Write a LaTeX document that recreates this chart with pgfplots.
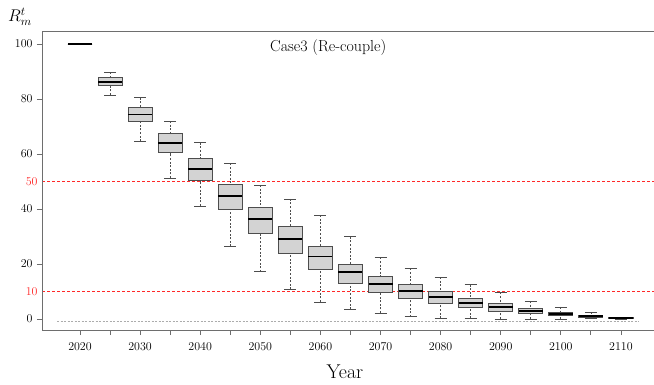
\documentclass[border=0pt]{standalone}
\usepackage{fix-cm}
\usepackage{fontspec}
\usepackage{pgfplots}
\pgfplotsset{compat=1.18}
\usepgfplotslibrary{statistics}
\definecolor{boxfill}{RGB}{211,211,211}
\definecolor{boxedge}{RGB}{77,77,77}
\definecolor{spine}{RGB}{110,110,110}
\definecolor{refred}{RGB}{255,40,40}
\pgfplotsset{
  boxplot/draw direction=y,
  boxplot/draw/lower whisker/.code={
    \draw[/pgfplots/boxplot/every whisker/.try]
      (boxplot box cs:\pgfplotsboxplotvalue{lower whisker},0.5) --
      (boxplot box cs:\pgfplotsboxplotvalue{lower quartile},0.5);
    \draw[/pgfplots/boxplot/every whisker/.try, solid]
      (boxplot whisker cs:\pgfplotsboxplotvalue{lower whisker},0) --
      (boxplot whisker cs:\pgfplotsboxplotvalue{lower whisker},1);
  },
  boxplot/draw/upper whisker/.code={
    \draw[/pgfplots/boxplot/every whisker/.try]
      (boxplot box cs:\pgfplotsboxplotvalue{upper whisker},0.5) --
      (boxplot box cs:\pgfplotsboxplotvalue{upper quartile},0.5);
    \draw[/pgfplots/boxplot/every whisker/.try, solid]
      (boxplot whisker cs:\pgfplotsboxplotvalue{upper whisker},0) --
      (boxplot whisker cs:\pgfplotsboxplotvalue{upper whisker},1);
  },
  boxplot/box extend=4,
  boxplot/whisker extend=2,
  boxplot/every whisker/.style={draw=boxedge, line width=0.7bp, dash pattern=on 2bp off 1.6bp},
  boxplot/every median/.style={draw=black, line width=1.8bp},
  boxplot/every box/.style={draw=boxedge, fill=boxfill, line width=0.9bp},
  common/.style={scale only axis, width=612bp, height=298bp,
    xmin=-6.32, xmax=95.5, ymin=-4, ymax=104.4},
}
\begin{document}
\begin{tikzpicture}
% reference lines, drawn underneath the boxes
\begin{axis}[common, hide axis, clip=false]
\addplot[draw=refred, line width=1.2bp, dash pattern=on 3bp off 2bp] coordinates {(-6.32,50) (95.5,50)};
\addplot[draw=refred, line width=1.2bp, dash pattern=on 3bp off 2bp] coordinates {(-6.32,10) (95.5,10)};
\addplot[draw=gray!65, line width=0.8bp, dash pattern=on 2bp off 1.5bp] coordinates {(-3.8,-1) (93,-1)};
\end{axis}
\begin{axis}[common,
  axis x line*=box, axis y line*=left, xtick pos=left,
  axis line style={draw=spine, line width=1bp},
  every tick/.style={draw=spine, line width=0.9bp},
  tick align=outside, major tick length=5bp, minor tick length=5bp,
  xtick={0,10,...,90}, minor xtick={5,15,...,85},
  xticklabels={2020,2030,2040,2050,2060,2070,2080,2090,2100,2110},
  ytick={0,20,40,60,80,100},
  extra y ticks={10,50},
  extra y tick style={major tick length=0pt, yticklabel style={text=refred}},
  ticklabel style={font=\fontsize{12}{14}\selectfont},
  xticklabel style={yshift=-4bp},
  yticklabel style={xshift=-1bp},
  xlabel={Year},
  xlabel style={font=\fontsize{20}{24}\selectfont, at={(axis description cs:0.495,-0.141)}, anchor=center},
  clip=false,
]
\coordinate (bl) at (rel axis cs:0,0);
\coordinate (tr) at (rel axis cs:1,1);
\addplot[boxplot prepared={draw position=0, lower whisker=100, lower quartile=100, median=100, upper quartile=100, upper whisker=100}] coordinates {};
\addplot[boxplot prepared={draw position=5, lower whisker=81.5, lower quartile=84.8, median=86.3, upper quartile=87.9, upper whisker=89.7}] coordinates {};
\addplot[boxplot prepared={draw position=10, lower whisker=64.7, lower quartile=72.0, median=74.4, upper quartile=77.1, upper whisker=80.5}] coordinates {};
\addplot[boxplot prepared={draw position=15, lower whisker=51.3, lower quartile=60.5, median=63.9, upper quartile=67.4, upper whisker=72.0}] coordinates {};
\addplot[boxplot prepared={draw position=20, lower whisker=41.1, lower quartile=50.3, median=54.7, upper quartile=58.5, upper whisker=64.1}] coordinates {};
\addplot[boxplot prepared={draw position=25, lower whisker=26.4, lower quartile=40.0, median=44.7, upper quartile=49.1, upper whisker=56.6}] coordinates {};
\addplot[boxplot prepared={draw position=30, lower whisker=17.2, lower quartile=31.2, median=36.3, upper quartile=40.6, upper whisker=48.7}] coordinates {};
\addplot[boxplot prepared={draw position=35, lower whisker=10.8, lower quartile=24.0, median=29.0, upper quartile=33.5, upper whisker=43.7}] coordinates {};
\addplot[boxplot prepared={draw position=40, lower whisker=6.2, lower quartile=18.2, median=22.7, upper quartile=26.4, upper whisker=37.8}] coordinates {};
\addplot[boxplot prepared={draw position=45, lower whisker=3.5, lower quartile=13.1, median=17.0, upper quartile=19.9, upper whisker=29.9}] coordinates {};
\addplot[boxplot prepared={draw position=50, lower whisker=2.2, lower quartile=9.7, median=12.6, upper quartile=15.4, upper whisker=22.4}] coordinates {};
\addplot[boxplot prepared={draw position=55, lower whisker=0.8, lower quartile=7.5, median=10.2, upper quartile=12.6, upper whisker=18.4}] coordinates {};
\addplot[boxplot prepared={draw position=60, lower whisker=0.3, lower quartile=5.7, median=7.9, upper quartile=9.9, upper whisker=15.2}] coordinates {};
\addplot[boxplot prepared={draw position=65, lower whisker=0.3, lower quartile=4.2, median=5.9, upper quartile=7.5, upper whisker=12.5}] coordinates {};
\addplot[boxplot prepared={draw position=70, lower whisker=0.0, lower quartile=2.9, median=4.4, upper quartile=5.7, upper whisker=9.7}] coordinates {};
\addplot[boxplot prepared={draw position=75, lower whisker=0.0, lower quartile=2.1, median=3.0, upper quartile=3.9, upper whisker=6.5}] coordinates {};
\addplot[boxplot prepared={draw position=80, lower whisker=0.0, lower quartile=1.2, median=1.8, upper quartile=2.4, upper whisker=4.4}] coordinates {};
\addplot[boxplot prepared={draw position=85, lower whisker=0.1, lower quartile=0.5, median=1.0, upper quartile=1.45, upper whisker=2.4}] coordinates {};
\addplot[boxplot prepared={draw position=90, lower whisker=0.0, lower quartile=0.1, median=0.36, upper quartile=0.6, upper whisker=0.7}] coordinates {};
\node[font=\fontsize{16}{19}\selectfont, anchor=center] at (axis cs:41.3,98.9) {Case3 (Re-couple)};
\node[font=\fontsize{17}{20}\selectfont, anchor=center] at (axis description cs:-0.036,1.05) {$R_m^t$};
\end{axis}
\pgfresetboundingbox
\path ([shift={(-42bp,-55bp)}]bl) rectangle ([shift={(0bp,32bp)}]tr);
\end{tikzpicture}
\end{document}
